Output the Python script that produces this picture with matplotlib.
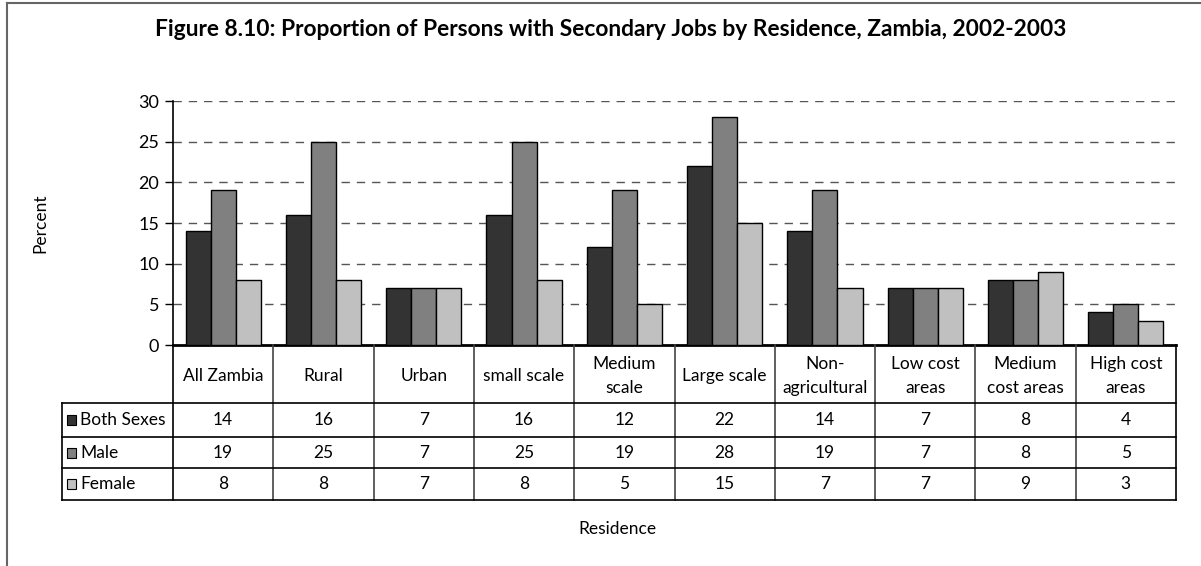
import numpy as np
import matplotlib.pyplot as plt
from matplotlib.transforms import blended_transform_factory
from matplotlib.lines import Line2D
from matplotlib.patches import Rectangle

plt.rcParams['font.family'] = ['Lato', 'DejaVu Sans']

categories = ["All Zambia", "Rural", "Urban", "small scale", "Medium\nscale",
              "Large scale", "Non-\nagricultural", "Low cost\nareas",
              "Medium\ncost areas", "High cost\nareas"]
series_names = ["Both Sexes", "Male", "Female"]
both_sexes = [14, 16, 7, 16, 12, 22, 14, 7, 8, 4]
male = [19, 25, 7, 25, 19, 28, 19, 7, 8, 5]
female = [8, 8, 7, 8, 5, 15, 7, 7, 9, 3]
series = [both_sexes, male, female]
colors = ["#333333", "#808080", "#c0c0c0"]

W, H = 1201, 566
fig = plt.figure(figsize=(W / 100, H / 100), dpi=100)

def fy(py):
    return 1 - py / H

ax = fig.add_axes([173 / W, fy(345), (1176 - 173) / W, (345 - 101) / H])

x = np.arange(len(categories))
bw = 0.25
for i, (vals, c) in enumerate(zip(series, colors)):
    ax.bar(x + (i - 1) * bw, vals, bw, color=c, edgecolor="black",
           linewidth=1.0, zorder=3)

ax.set_xlim(-0.5, len(categories) - 0.5)
ax.set_ylim(0, 30)
ax.set_yticks(range(0, 31, 5))
ax.tick_params(axis="y", labelsize=13, length=6, direction="out", width=1, pad=4)
ax.set_xticks([])
for y in range(5, 31, 5):
    ax.axhline(y, color="#555555", linestyle=(0, (6, 5)), linewidth=1.0, zorder=1)
ax.spines["top"].set_visible(False)
ax.spines["right"].set_visible(False)
ax.spines["left"].set_linewidth(1.2)
ax.spines["bottom"].set_linewidth(2.0)

# data table below the axis
tr = blended_transform_factory(ax.transData, fig.transFigure)
row_lines = [403, 437, 468, 500]
left_px = 62
x_left = ax.transData.inverted().transform((left_px, 0))[0]
x_right = len(categories) - 0.5

# vertical lines at category boundaries
for b in np.arange(-0.5, len(categories), 1.0):
    fig.add_artist(Line2D([b, b], [fy(345), fy(500)], transform=tr,
                          color="#444444" if -0.5 < b < x_right else "black",
                          linewidth=1.2))
# left border of legend column
fig.add_artist(Line2D([x_left, x_left], [fy(row_lines[0]), fy(500)], transform=tr,
                      color="black", linewidth=1.2))
for ry in row_lines:
    fig.add_artist(Line2D([x_left, x_right], [fy(ry), fy(ry)], transform=tr,
                          color="black", linewidth=1.2))

# header labels
for xi, cat in zip(x, categories):
    fig.text(xi, fy(376), cat, transform=tr, ha="center", va="center",
             fontsize=12.5, linespacing=1.55)

# rows
for r, (name, vals, c) in enumerate(zip(series_names, series, colors)):
    yc = fy((row_lines[r] + row_lines[r + 1]) / 2)
    fig.add_artist(Rectangle((67 / W, yc - 5 / H), 9 / W, 10 / H,
                             transform=fig.transFigure, facecolor=c,
                             edgecolor="black", linewidth=0.8))
    fig.text(80 / W, yc, name, ha="left", va="center", fontsize=12.5)
    for xi, v in zip(x, vals):
        fig.text(xi, yc, str(v), transform=tr, ha="center", va="center",
                 fontsize=12.5)

fig.text(611 / W, fy(30), "Figure 8.10: Proportion of Persons with Secondary Jobs by Residence, Zambia, 2002-2003",
         ha="center", va="center", fontsize=16.4, fontweight="bold")
fig.text(40 / W, fy(223), "Percent", rotation=90, ha="center", va="center", fontsize=12.5)
fig.text(617 / W, fy(529), "Residence", ha="center", va="center", fontsize=12.5)

# outer frame (left and top edges)
fig.add_artist(Line2D([7 / W, 7 / W], [0, fy(3)], transform=fig.transFigure,
                      color="#666666", linewidth=1.5))
fig.add_artist(Line2D([7 / W, 1], [fy(3), fy(3)], transform=fig.transFigure,
                      color="#666666", linewidth=1.5))

fig.savefig("out.png", dpi=100)
